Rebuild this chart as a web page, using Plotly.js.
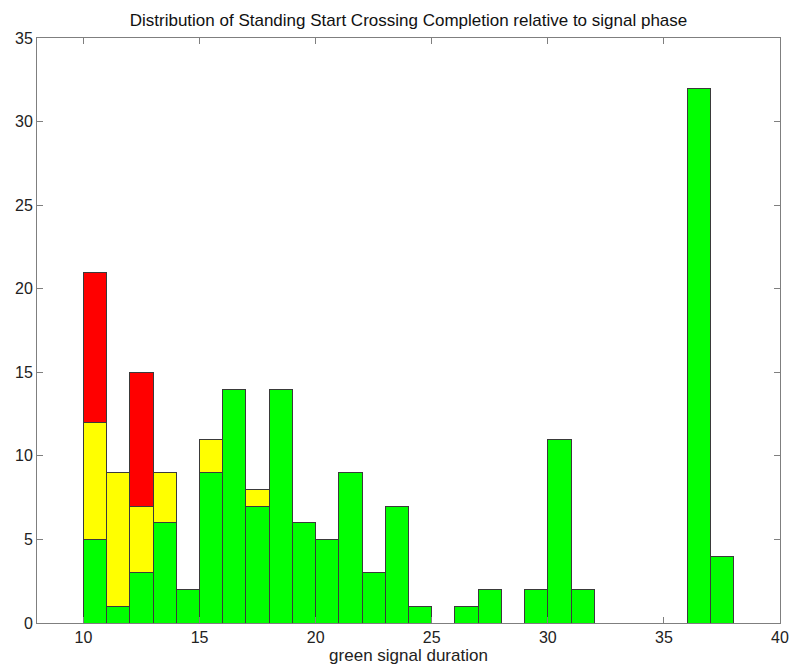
<!DOCTYPE html>
<html>
<head>
<meta charset="utf-8">
<script src="https://cdn.plot.ly/plotly-3.0.1.min.js"></script>
<style>html,body{margin:0;padding:0;background:#fff;}#chart{width:790px;height:669px;}</style>
</head>
<body>
<div id="chart"></div>
<script>
// Bin centres (bin width 1, from 10 to 38)
const binCenters = [10.5,11.5,12.5,13.5,14.5,15.5,16.5,17.5,18.5,19.5,20.5,21.5,22.5,23.5,24.5,25.5,26.5,27.5,28.5,29.5,30.5,31.5,32.5,33.5,34.5,35.5,36.5,37.5];
const greenCounts  = [5,1,3,6,2,9,14,7,14,6,5,9,3,7,1,null,1,2,null,2,11,2,null,null,null,null,32,4];
const yellowCounts = [7,8,4,3,null,2,null,1,null,null,null,null,null,null,null,null,null,null,null,null,null,null,null,null,null,null,null,null];
const redCounts    = [9,null,8,null,null,null,null,null,null,null,null,null,null,null,null,null,null,null,null,null,null,null,null,null,null,null,null,null];
const xTicks = [10,15,20,25,30,35,40];
const yTicks = [0,5,10,15,20,25,30,35];

const FONT = 'Liberation Sans, Arial, sans-serif';
const outline = {color:'#3a3a3a', width:1};
const mk = (c) => ({type:'bar', x:binCenters, width:1, marker:{color:c, line:outline}, hoverinfo:'x+y'});
const data = [
  Object.assign(mk('#00ff00'), {y:greenCounts, name:'green'}),
  Object.assign(mk('#ffff00'), {y:yellowCounts, name:'yellow'}),
  Object.assign(mk('#ff0000'), {y:redCounts, name:'red'})
];
const axisCommon = {
  showline:true, mirror:'ticks', linecolor:'#7f7f7f', linewidth:1,
  ticks:'inside', ticklen:6, tickcolor:'#7f7f7f', tickwidth:1,
  showgrid:false, zeroline:false,
  tickfont:{family:FONT, size:16, color:'#222'}
};
const layout = {
  width:790, height:669,
  margin:{l:37, r:10, t:38, b:46},
  paper_bgcolor:'#fff', plot_bgcolor:'#fff',
  barmode:'stack', bargap:0, showlegend:false,
  title:{text:'Distribution of Standing Start Crossing Completion relative to signal phase',
         font:{family:FONT, size:17, color:'#111'},
         xref:'paper', x:0.5, xanchor:'center', yref:'container', y:0.970, yanchor:'middle'},
  xaxis:Object.assign({}, axisCommon, {range:[8,40], tickvals:xTicks, ticktext:xTicks.map(String),
         title:{text:'green signal duration', standoff:3,
                font:{family:FONT, size:17, color:'#222'}}}),
  yaxis:Object.assign({}, axisCommon, {range:[0,35], tickvals:yTicks, ticktext:yTicks.map(String)})
};
Plotly.newPlot('chart', data, layout, {displayModeBar:false, staticPlot:true});
</script>
</body>
</html>
